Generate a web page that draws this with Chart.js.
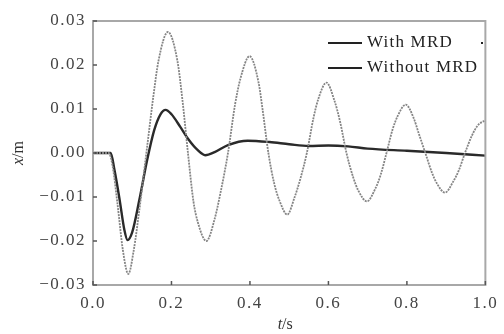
<!DOCTYPE html>
<html>
<head>
<meta charset="utf-8">
<script src="https://cdn.jsdelivr.net/npm/chart.js@4/dist/chart.umd.min.js"></script>
<style>
  html, body { margin: 0; padding: 0; background: #fff; }
  #wrap { width: 504px; height: 334px; }
</style>
</head>
<body>
<div id="wrap"><canvas id="dispChart"></canvas></div>
<script>
// Displacement response
const tWith = [0, 0.045, 0.055, 0.068, 0.08, 0.088, 0.10, 0.118, 0.138, 0.156, 0.172, 0.185, 0.20, 0.222, 0.244, 0.265, 0.286, 0.31, 0.344, 0.394, 0.45, 0.50, 0.55, 0.60, 0.65, 0.70, 0.80, 0.90, 1.0];
const xWith = [0, 0, -0.004, -0.0107, -0.0175, -0.0198, -0.018, -0.0107, -0.0016, 0.0052, 0.0088, 0.0098, 0.0088, 0.006, 0.003, 0.0008, -0.0005, 0.0002, 0.0018, 0.0028, 0.0025, 0.002, 0.0016, 0.0017, 0.0015, 0.001, 0.0005, 0, -0.0006];

const tWithout = [0, 0.04, 0.05, 0.063, 0.076, 0.09, 0.104, 0.118, 0.136, 0.154, 0.167, 0.191, 0.215, 0.228, 0.242, 0.256, 0.268, 0.289, 0.31, 0.325, 0.344, 0.362, 0.376, 0.399, 0.422, 0.432, 0.447, 0.462, 0.476, 0.495, 0.514, 0.528, 0.545, 0.562, 0.575, 0.595, 0.615, 0.63, 0.646, 0.663, 0.676, 0.698, 0.72, 0.733, 0.748, 0.764, 0.777, 0.797, 0.817, 0.83, 0.847, 0.864, 0.877, 0.897, 0.918, 0.932, 0.948, 0.966, 0.98, 1.0];
const xWithout = [0, 0, -0.003, -0.012, -0.022, -0.0275, -0.022, -0.013, 0, 0.013, 0.021, 0.0275, 0.021, 0.012, 0, -0.011, -0.016, -0.020, -0.015, -0.009, 0, 0.011, 0.017, 0.022, 0.016, 0.010, 0, -0.007, -0.011, -0.014, -0.010, -0.006, 0, 0.008, 0.0125, 0.016, 0.012, 0.007, 0, -0.0055, -0.0085, -0.011, -0.008, -0.005, 0, 0.0055, 0.0085, 0.011, 0.008, 0.0045, 0, -0.0045, -0.007, -0.009, -0.0065, -0.004, 0, 0.004, 0.0062, 0.0075];

const xTicks = [0, 0.2, 0.4, 0.6, 0.8, 1.0];
const yTicks = [-0.03, -0.02, -0.01, 0, 0.01, 0.02, 0.03];
const legendLabels = ['With MRD', 'Without MRD'];

const SERIF = "'Liberation Serif', 'DejaVu Serif', serif";

const toPoints = (ts, xs) => ts.map((t, i) => ({ x: t, y: xs[i] }));

// frame, inward ticks, axis titles and the in-plot legend
const framePlugin = {
  id: 'frame',
  beforeDraw(chart) {
    chart.ctx.letterSpacing = '1.5px';
  },
  afterDraw(chart) {
    const { ctx, chartArea: a, scales } = chart;
    ctx.save();
    ctx.letterSpacing = '0px';
    ctx.strokeStyle = '#a8a8a8';
    ctx.lineWidth = 2;
    ctx.strokeRect(a.left, a.top, a.right - a.left, a.bottom - a.top);

    ctx.strokeStyle = '#555';
    ctx.lineWidth = 1.5;
    xTicks.forEach(v => {
      const px = scales.x.getPixelForValue(v);
      ctx.beginPath(); ctx.moveTo(px, a.bottom); ctx.lineTo(px, a.bottom - 4); ctx.stroke();
    });
    yTicks.forEach(v => {
      const py = scales.y.getPixelForValue(v);
      ctx.beginPath(); ctx.moveTo(a.left, py); ctx.lineTo(a.left + 4, py); ctx.stroke();
    });

    // axis titles
    ctx.fillStyle = '#333';
    ctx.textBaseline = 'middle';
    ctx.font = `italic 16px ${SERIF}`;
    const tw = ctx.measureText('t').width;
    ctx.font = `16px ${SERIF}`;
    const sw = ctx.measureText('/s').width;
    const cx = (a.left + a.right) / 2 - 4;
    let x0 = cx - (tw + sw) / 2;
    ctx.font = `italic 16px ${SERIF}`;
    ctx.textAlign = 'left';
    ctx.fillText('t', x0, 325);
    ctx.font = `16px ${SERIF}`;
    ctx.fillText('/s', x0 + tw, 325);

    ctx.save();
    ctx.translate(19, (a.top + a.bottom) / 2);
    ctx.rotate(-Math.PI / 2);
    ctx.font = `italic 16px ${SERIF}`;
    const xw = ctx.measureText('x').width;
    ctx.font = `16px ${SERIF}`;
    const mw = ctx.measureText('/m').width;
    x0 = -(xw + mw) / 2;
    ctx.font = `italic 16px ${SERIF}`;
    ctx.fillText('x', x0, 0);
    ctx.font = `16px ${SERIF}`;
    ctx.fillText('/m', x0 + xw, 0);
    ctx.restore();

    // legend
    ctx.letterSpacing = '1.2px';
    ctx.font = `17px ${SERIF}`;
    ctx.fillStyle = '#222';
    ctx.strokeStyle = '#222';
    ctx.lineWidth = 2;
    legendLabels.forEach((lab, i) => {
      const y = 43 + i * 25;
      ctx.beginPath(); ctx.moveTo(328, y); ctx.lineTo(362, y); ctx.stroke();
      ctx.fillText(lab, 367, y);
    });
    ctx.fillRect(481, 42, 2, 2);
    ctx.restore();
  }
};

new Chart(document.getElementById('dispChart'), {
  type: 'line',
  data: {
    datasets: [
      {
        label: 'Without MRD',
        data: toPoints(tWithout, xWithout),
        borderColor: '#858585',
        borderWidth: 1.8,
        borderDash: [2, 1],
        pointRadius: 0,
        cubicInterpolationMode: 'monotone'
      },
      {
        label: 'With MRD',
        data: toPoints(tWith, xWith),
        borderColor: '#2a2a2a',
        borderWidth: 2.4,
        pointRadius: 0,
        cubicInterpolationMode: 'monotone'
      }
    ]
  },
  options: {
    responsive: true,
    maintainAspectRatio: false,
    animation: false,
    events: [],
    layout: { padding: { top: 21, right: 13, left: 0, bottom: 0 } },
    plugins: {
      legend: { display: false },
      tooltip: { enabled: false }
    },
    scales: {
      x: {
        type: 'linear',
        min: 0,
        max: 1,
        afterBuildTicks: (s) => { s.ticks = xTicks.map(v => ({ value: v })); },
        afterFit: (s) => { s.height = 49; },
        grid: { display: false, drawTicks: false },
        border: { display: false },
        ticks: {
          padding: 8,
          color: '#444',
          font: { family: SERIF, size: 17 },
          maxRotation: 0,
          callback: (v) => v.toFixed(1)
        }
      },
      y: {
        type: 'linear',
        min: -0.03,
        max: 0.03,
        afterBuildTicks: (s) => { s.ticks = yTicks.map(v => ({ value: v })); },
        afterFit: (s) => { s.width = 93; },
        grid: { display: false, drawTicks: false },
        border: { display: false },
        ticks: {
          padding: 7,
          color: '#444',
          font: { family: SERIF, size: 17 },
          callback: (v) => {
            const s = Math.abs(v).toFixed(2);
            return v < -1e-9 ? '\u2212' + s : s;
          }
        }
      }
    }
  },
  plugins: [framePlugin]
});
</script>
</body>
</html>
